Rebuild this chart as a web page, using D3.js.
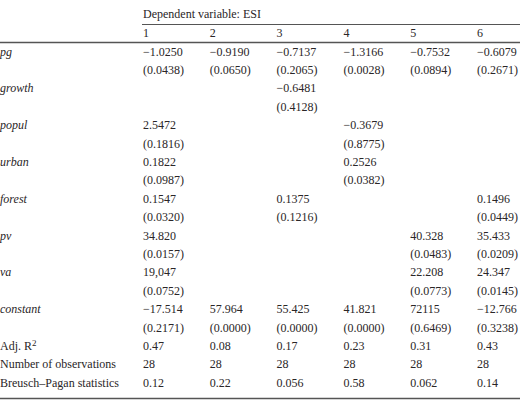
<!DOCTYPE html>
<html>
<head>
<meta charset="utf-8">
<script src="https://d3js.org/d3.v7.min.js"></script>
<style>
  body { margin: 0; background: #fff; }
  text { font-family: "Liberation Serif", "DejaVu Serif", serif; font-size: 12px; fill: #2a2627; }
  .var { font-style: italic; }
  .rule { stroke: #555; }
</style>
</head>
<body>
<div id="table-container"></div>
<script>
// Regression table: Dependent variable ESI

const models = ['1', '2', '3', '4', '5', '6'];
const variables = ['pg', 'growth', 'popul', 'urban', 'forest', 'pv', 'va', 'constant'];

// coefficient per variable per model (null = not in model)
const coefs = [
    ['\u22121.0250', '\u22120.9190', '\u22120.7137', '\u22121.3166', '\u22120.7532', '\u22120.6079'],
    [null, null, '\u22120.6481', null, null, null],
    ['2.5472', null, null, '\u22120.3679', null, null],
    ['0.1822', null, null, '0.2526', null, null],
    ['0.1547', null, '0.1375', null, null, '0.1496'],
    ['34.820', null, null, null, '40.328', '35.433'],
    ['19,047', null, null, null, '22.208', '24.347'],
    ['\u221217.514', '57.964', '55.425', '41.821', '72115', '\u221212.766']
];

// p-values shown in parentheses
const pValues = [
    ['0.0438', '0.0650', '0.2065', '0.0028', '0.0894', '0.2671'],
    [null, null, '0.4128', null, null, null],
    ['0.1816', null, null, '0.8775', null, null],
    ['0.0987', null, null, '0.0382', null, null],
    ['0.0320', null, '0.1216', null, null, '0.0449'],
    ['0.0157', null, null, null, '0.0483', '0.0209'],
    ['0.0752', null, null, null, '0.0773', '0.0145'],
    ['0.2171', '0.0000', '0.0000', '0.0000', '0.6469', '0.3238']
];

const statLabels = ['Adj. R', 'Number of observations', 'Breusch\u2013Pagan statistics'];
const adjR2 = ['0.47', '0.08', '0.17', '0.23', '0.31', '0.43'];
const nObs = ['28', '28', '28', '28', '28', '28'];
const bpStats = ['0.12', '0.22', '0.056', '0.58', '0.062', '0.14'];

function drawTable() {
    const width = 520;
    const height = 403;

    const container = d3.select('#table-container');
    container.selectAll('*').remove();

    const svg = container.append('svg')
        .attr('width', width)
        .attr('height', height);

    // Build rows: each variable gives a coef row and a p-value row
    const rows = [];
    variables.forEach((v, i) => {
        rows.push({label: v, italic: true, values: coefs[i]});
        rows.push({label: '', italic: false, values: pValues[i].map(p => p === null ? null : `(${p})`)});
    });
    rows.push({label: statLabels[0], sup: '2', values: adjR2});
    rows.push({label: statLabels[1], values: nObs});
    rows.push({label: statLabels[2], values: bpStats});

    const x = d3.scaleLinear()
        .domain([0, models.length - 1])
        .range([143, 477]);

    const y = d3.scaleLinear()
        .domain([0, rows.length - 1])
        .range([51.5, 382.5]);

    // Header
    svg.append('text')
        .attr('x', x(0))
        .attr('y', 14)
        .attr('dy', '0.35em')
        .text('Dependent variable: ESI');

    svg.append('line')
        .attr('class', 'rule')
        .attr('x1', 142).attr('x2', width)
        .attr('y1', 24.5).attr('y2', 24.5)
        .attr('stroke-width', 1);

    svg.selectAll('.model')
        .data(models)
        .enter()
        .append('text')
        .attr('class', 'model')
        .attr('x', (d, i) => x(i))
        .attr('y', 33)
        .attr('dy', '0.35em')
        .text(d => d);

    svg.append('line')
        .attr('class', 'rule')
        .attr('x1', 0).attr('x2', width)
        .attr('y1', 42.5).attr('y2', 42.5)
        .attr('stroke-width', 1.5);

    // Body rows
    const rowG = svg.selectAll('.row')
        .data(rows)
        .enter()
        .append('g')
        .attr('class', 'row')
        .attr('transform', (d, i) => `translate(0,${y(i)})`);

    const labels = rowG.append('text')
        .attr('x', 0)
        .attr('dy', '0.35em')
        .attr('class', d => d.italic ? 'var' : null)
        .text(d => d.label);

    labels.filter(d => d.sup)
        .append('tspan')
        .attr('dy', '-0.45em')
        .attr('font-size', '9px')
        .text(d => d.sup);

    rowG.selectAll('.cell')
        .data(d => d.values.map((v, i) => ({v, i})).filter(c => c.v !== null))
        .enter()
        .append('text')
        .attr('class', 'cell')
        .attr('x', c => x(c.i))
        .attr('dy', '0.35em')
        .text(c => c.v);

    svg.append('line')
        .attr('class', 'rule')
        .attr('x1', 0).attr('x2', width)
        .attr('y1', 398.5).attr('y2', 398.5)
        .attr('stroke', '#777')
        .attr('stroke-width', 1.5);
}

drawTable();
</script>
</body>
</html>
